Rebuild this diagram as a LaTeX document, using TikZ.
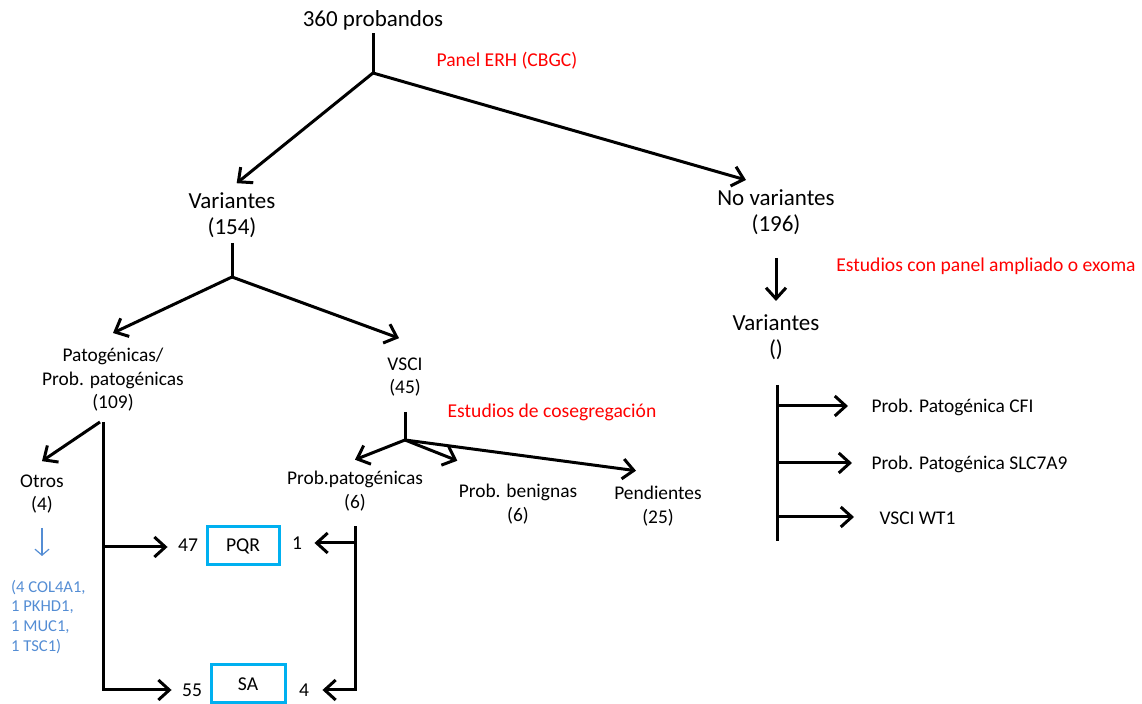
\documentclass[tikz,border=0pt]{standalone}
\usepackage{fontspec}
\setmainfont{Carlito}
\usepackage{tikz}
\usetikzlibrary{arrows.meta,positioning}
\definecolor{tagred}{RGB}{255,0,0}
\definecolor{boxcyan}{RGB}{0,176,240}
\definecolor{noteblue}{RGB}{84,141,212}
\tikzset{
  every picture/.style = {
    x = 0.5pt,
    y = -0.5pt,
    line width = 1.5pt,
    >={Straight Barb[length=5.5pt,width=10pt]},
  }
  ,
  top/.style = {
    font = \fontsize{11.5}{13}\selectfont,
    inner sep = 1pt
  }
  , % big two-line groups
  group/.style = {
    align = center,
    font = \fontsize{11.5}{13}\selectfont,
    inner sep = 2pt
  }
  , % small labels of the tree
  leaf/.style = {
    align = center,
    font = \fontsize{9.7}{11.7}\selectfont,
    inner sep = 2pt
  }
  ,
  study/.style = {
    text = tagred,
    font = \fontsize{9.8}{11}\selectfont
  }
  ,
  count/.style = {
    font = \fontsize{9.8}{11}\selectfont,
    inner sep = 1pt
  }
  ,
  result/.style = {
    draw = boxcyan,
    line width = 1.5pt,
    minimum height = 19pt,
    font = \fontsize{9.8}{11}\selectfont
  }
  ,
  note/.style = {
    text = noteblue,
    align = left,
    font = \fontsize{8.3}{9.8}\selectfont
  }
  ,
  gap/.style = {shorten >= #1}
}
\begin{document}
\begin{tikzpicture}
\useasboundingbox (0,0) rectangle (1142,704);
% nodes
\node[top] (root) at (373,20) {360 probandos};
\node[study] (erh) at (507,61) {Panel ERH (CBGC)};
\node[group] (var) at (232,215) {Variantes\\(154)};
\node[group] (novar) at (776,212) {No variantes\\(196)};
\node[study] (ampl) at (986,266) {Estudios con panel ampliado o exoma};
\node[group] (novarnext) at (776,337) {Variantes\\()};
\node[leaf] (pat) at (113,380) {Patogénicas/\\Prob. patogénicas\\(109)};
\node[leaf] (vsci) at (405,377) {VSCI\\(45)};
\node[study] (coseg) at (552,412) {Estudios de cosegregación};
\node[leaf] (otros) at (42,494) {Otros\\(4)};
\node[leaf] (probpat) at (355,491) {Prob.patogénicas\\(6)};
\node[leaf] (benig) at (518,504) {Prob. benignas\\(6)};
\node[leaf] (pend) at (658,506) {Pendientes\\(25)};
\node[note, anchor=north west] (genes) at (3,572) {(4 COL4A1,\\1 PKHD1,\\1 MUC1,\\1 TSC1)};
\node[count] (n47) at (188,545) {47};
\node[result, minimum width=36pt] (pqr) at (243,546) {PQR};
\node[count] (n1) at (297,543) {1};
\node[count] (n55) at (192,690) {55};
\node[result, minimum width=37pt] (sa) at (248,684) {SA};
\node[count] (n4) at (304,690) {4};
\node[leaf, anchor=west] (cfi) at (866,407) {Prob. Patogénica CFI};
\node[leaf, anchor=west] (slc) at (866,464) {Prob. Patogénica SLC7A9};
\node[leaf, anchor=west] (wt1) at (874,518) {VSCI WT1};
% branch points
\coordinate (rootfork) at (373,73);
\coordinate (varfork) at (232,277);
\coordinate (vscifork) at (405,440);
\coordinate (patfork) at (103,422);
\coordinate (patmid) at (103,547);
\coordinate (ppmid) at (355,543);
\coordinate (genetip) at (42,556);
\coordinate (sp0) at (777,385);
\coordinate (sp1) at (777,406);
\coordinate (sp2) at (777,463);
\coordinate (sp3) at (777,517);
\coordinate (sp4) at (777,541);
% connectors
\draw (root) -- (rootfork);
\draw[->, gap=3pt] (rootfork) -- (var.north);
\draw[->] (rootfork) -- ([xshift=-15pt,yshift=2pt]novar.north);
\draw (var) -- (varfork);
\draw[->] (varfork) -- ([yshift=5pt]pat.north);
\draw[->] (varfork) -- ([xshift=-3pt,yshift=7pt]vsci.north);
\draw[->, shorten <=9pt] (novar) -- ([yshift=4pt]novarnext.north);
\draw (sp0) -- (sp4);
\draw[->, gap=9pt] (sp1) -- (cfi.west |- sp1);
\draw[->, gap=7pt] (sp2) -- (slc.west |- sp2);
\draw[->, gap=10pt] (sp3) -- (wt1.west |- sp3);
\draw[shorten <=5pt] (vsci) -- (vscifork);
\draw[->] (vscifork) -- ([yshift=3pt]probpat.north);
\draw[->] (vscifork) -- ([xshift=2pt,yshift=9pt]benig.north west);
\draw[->] (vscifork) -- ([xshift=-11pt,yshift=5pt]pend.north);
\draw[->] ([xshift=-1.5pt]patfork) -- ([yshift=4pt]otros.north);
\draw[->, gap=3.5pt] (patfork) |- (n55.west);
\draw[->, gap=3.5pt] (patmid) -- (n47.west |- patmid);
\draw[->, gap=5pt, shorten <=5pt] (probpat.south) |- (n4.east);
\draw[->, gap=4.5pt] (ppmid) -- (n1.east |- ppmid);
\draw[noteblue, line width=0.6pt, -{Straight Barb[length=3pt,width=7pt]}, shorten <=4.5pt] (otros) -- (genetip);
\end{tikzpicture}
\end{document}
